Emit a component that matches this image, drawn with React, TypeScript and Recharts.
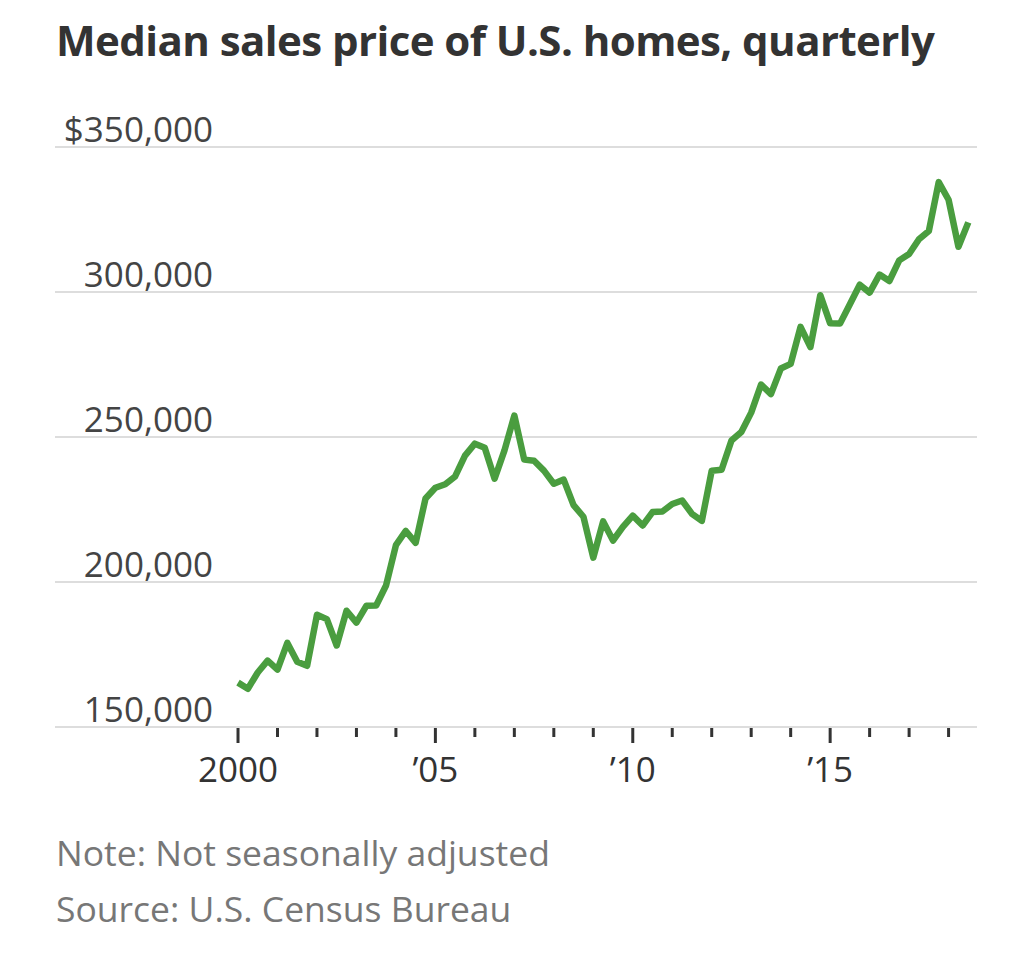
import React from "react";
import { LineChart, Line, XAxis, YAxis, CartesianGrid } from "recharts";

const years = [2000, 2001, 2002, 2003, 2004, 2005, 2006, 2007, 2008, 2009, 2010, 2011, 2012, 2013, 2014, 2015, 2016, 2017, 2018];

// Quarterly median sales price, rows by year, Q1..Q4
const prices2000to2009 = [
  [165300, 163200, 168800, 172900],
  [169800, 179000, 172500, 171100],
  [188700, 187200, 178100, 190100],
  [186000, 191800, 191900, 198800],
  [212700, 217600, 213500, 228800],
  [232500, 233700, 236400, 243600],
  [247700, 246300, 235600, 245400],
  [257400, 242200, 241800, 238400],
  [233900, 235300, 226500, 222500],
  [208400, 220900, 214300, 219000],
];
const prices2010to2018 = [
  [222900, 219500, 224100, 224300],
  [226900, 228100, 223500, 221100],
  [238400, 238700, 248800, 251700],
  [258400, 268100, 264800, 273600],
  [275200, 288000, 281000, 298900],
  [289200, 289100, 295800, 302500],
  [299800, 306000, 303800, 310900],
  [313100, 318200, 321000, 337900],
  [331800, 315600, 324000],
];

const yTicks = [150000, 200000, 250000, 300000, 350000];
const yTickLabels = ["150,000", "200,000", "250,000", "300,000", "$350,000"];
const xTickLabels: Record<number, string> = { 2000: "2000", 2005: "\u201905", 2010: "\u201910", 2015: "\u201915" };

const allRows = [...prices2000to2009, ...prices2010to2018];
const data = allRows.flatMap((row, i) =>
  row.map((v, q) => ({ t: years[i] + q * 0.25, price: v }))
);

const FONT = "'Open Sans', 'Noto Sans', sans-serif";

const renderXTick = (props: any) => {
  const { x, y, payload } = props;
  const label = xTickLabels[payload.value];
  const major = label !== undefined;
  return (
    <g key={`xt-${payload.value}`}>
      <line x1={x} x2={x} y1={y + 1} y2={y + (major ? 16 : 10)} stroke="#333" strokeWidth={3} />
      {major && (
        <text x={x} y={y + 55} textAnchor="middle" fill="#333" fontSize={35} fontFamily={FONT}>
          {label}
        </text>
      )}
    </g>
  );
};

const renderYTick = (props: any) => {
  const { x, y, payload } = props;
  const idx = yTicks.indexOf(payload.value);
  return (
    <text key={`yt-${payload.value}`} x={x + 158} y={y - 5} textAnchor="end" fill="#444" fontSize={35} fontFamily={FONT}>
      {yTickLabels[idx]}
    </text>
  );
};

export default function App() {
  return (
    <div style={{ position: "absolute", left: 0, top: 0, width: 1024, height: 971, background: "#fff", fontFamily: FONT }}>
      <div style={{ position: "absolute", left: 56, top: 11, fontSize: 42, fontWeight: 700, color: "#333", whiteSpace: "nowrap", letterSpacing: -0.57 }}>
        Median sales price of U.S. homes, quarterly
      </div>
      <LineChart
        width={1024}
        height={971}
        data={data}
        margin={{ top: 147, right: 47, bottom: 243, left: 54 }}
      >
        <CartesianGrid horizontal vertical={false} stroke="#dddddd" strokeWidth={2} />
        <XAxis
          dataKey="t"
          type="number"
          domain={[1995.364, 2018.72]}
          ticks={years}
          height={1}
          axisLine={false}
          tickLine={false}
          tickSize={0}
          tickMargin={0}
          tick={renderXTick}
          interval={0}
          allowDataOverflow
        />
        <YAxis
          type="number"
          domain={[150000, 350000]}
          ticks={yTicks}
          width={1}
          axisLine={false}
          tickLine={false}
          tickSize={0}
          tickMargin={0}
          tick={renderYTick}
          interval={0}
        />
        <Line
          type="linear"
          dataKey="price"
          stroke="#4a9d3f"
          strokeWidth={6.5}
          strokeLinejoin="round"
          dot={false}
          isAnimationActive={false}
        />
      </LineChart>
      <div style={{ position: "absolute", left: 56, top: 824, fontSize: 35.5, color: "#777", lineHeight: "56px", whiteSpace: "nowrap" }}>
        <div>Note: Not seasonally adjusted</div>
        <div>Source: U.S. Census Bureau</div>
      </div>
    </div>
  );
}
